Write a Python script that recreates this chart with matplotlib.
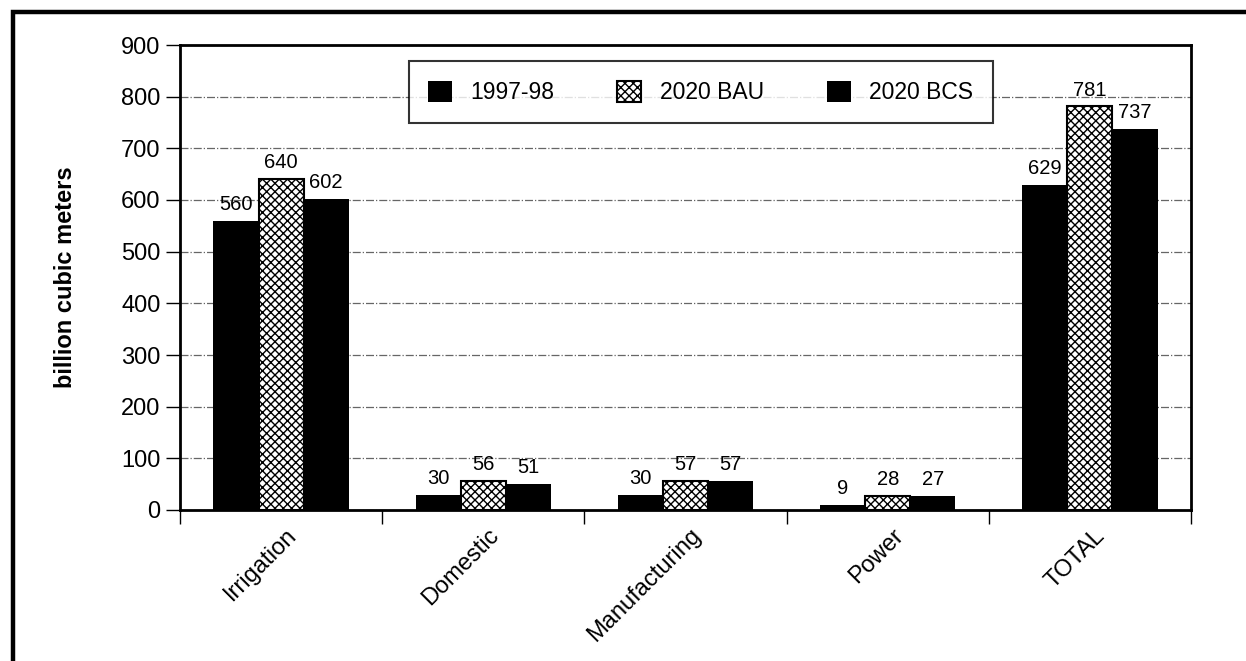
import matplotlib
matplotlib.use('Agg')
import matplotlib.pyplot as plt
import matplotlib.patches as mpatches
import matplotlib.transforms as mtransforms
import numpy as np

plt.rcParams['font.family'] = ['Liberation Sans', 'DejaVu Sans']
plt.rcParams['hatch.linewidth'] = 1.0

# water withdrawals, billion cubic meters
categories = ['Irrigation', 'Domestic', 'Manufacturing', 'Power', 'TOTAL']
series_names = ['1997-98', '2020 BAU', '2020 BCS']
v_1997 = [560, 30, 30, 9, 629]
v_bau = [640, 56, 57, 28, 781]
v_bcs = [602, 51, 57, 27, 737]

fig = plt.figure(figsize=(12.46, 6.61), dpi=100)
ax = fig.add_axes([180/1246, 1 - 510/661, 1011/1246, 465/661])

# outer frame (right and bottom edges run off the page)
fig.patches.append(mpatches.Rectangle((12.5/1246, -0.05), 1.2, 1 - 12.5/661 + 0.05,
                                      transform=fig.transFigure, fill=False,
                                      edgecolor='black', linewidth=3.2))

x = np.arange(len(categories))
w = 0.223
styles = [dict(color='black'),
          dict(facecolor='white', edgecolor='black', hatch='xxxx'),
          dict(color='black')]
for i, (vals, st) in enumerate(zip([v_1997, v_bau, v_bcs], styles)):
    bars = ax.bar(x + (i - 1) * w, vals, w, label=series_names[i], linewidth=1.5, zorder=3, **st)
    ax.bar_label(bars, labels=[str(v) for v in vals], padding=5, fontsize=14.5)

ax.set_ylim(0, 900)
ax.set_xlim(-0.5, len(categories) - 0.5)
ax.set_yticks(range(0, 901, 100))
ax.tick_params(axis='y', labelsize=17, length=10, width=1, pad=4)
ax.set_xticks(x)
ax.set_xticklabels(categories, rotation=45, ha='right', va='center',
                   rotation_mode='anchor', fontsize=17)
ax.tick_params(axis='x', length=0, pad=16)
shift = mtransforms.ScaledTranslation(12/100, 0, fig.dpi_scale_trans)
for lab in ax.get_xticklabels():
    lab.set_transform(lab.get_transform() + shift)
ax.set_xticks(np.arange(-0.5, len(categories)), minor=True)
ax.tick_params(axis='x', which='minor', length=10, width=1)
ax.yaxis.grid(True, color='#666666', linestyle='-.', linewidth=0.9, zorder=0)
for s in ax.spines.values():
    s.set_linewidth(2)

ax.set_ylabel('billion cubic meters', fontsize=17, fontweight='bold', labelpad=32)

leg = ax.legend(loc='upper center', bbox_to_anchor=(0.515, 0.9655), ncol=3, fontsize=16.5,
                frameon=True, fancybox=False, edgecolor='black', handlelength=1.05,
                handleheight=1.05, handletextpad=0.8, columnspacing=2.75,
                borderpad=0.85, borderaxespad=0)
leg.get_frame().set_linewidth(1.5)

fig.savefig('out.png', dpi=100)
